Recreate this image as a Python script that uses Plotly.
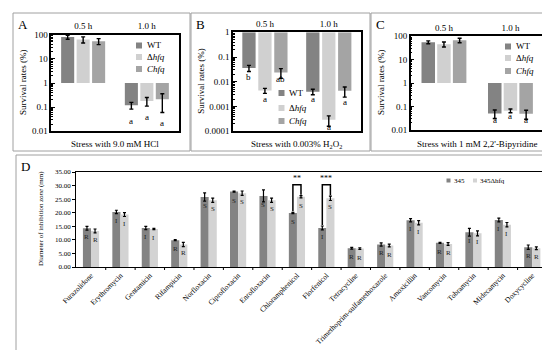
import plotly.graph_objects as go

W, H = 550, 350
FONT = 'Liberation Serif'

def px(x):
    return x / W

def py(y):
    return 1 - y / H

# ---------------- data ----------------
time_points = ['0.5 h', '1.0 h']
strain_names = ['WT', 'Δhfq', 'Chfq']
strain_legend = ['WT', 'Δ<i>hfq</i>', '<i>Chfq</i>']
strain_colors = ['#838383', '#d0d0d0', '#a4a4a4']

# Panel A: 9.0 mM HCl (survival %, 0.5 h and 1.0 h)
hcl_wt = [80, 0.12]
hcl_dhfq = [63, 0.18]
hcl_chfq = [54, 0.21]
hcl_wt_err = [15, 0.037]
hcl_dhfq_err = [18, 0.07]
hcl_chfq_err = [15, 0.15]
hcl_letters = [['a', 'a'], ['a', 'a'], ['a', 'a']]
hcl_letter_y = [[2.17, -1.58], [2.2, -1.42], [2.17, -1.67]]

# Panel B: 0.003% H2O2
h2o2_wt = [0.036, 0.004]
h2o2_dhfq = [0.0044, 0.00029]
h2o2_chfq = [0.024, 0.0043]
h2o2_wt_err = [0.01, 0.001]
h2o2_dhfq_err = [0.001, 0.00013]
h2o2_chfq_err = [0.01, 0.0019]
h2o2_letters = [['b', 'a'], ['a', 'a'], ['ab', 'a']]
h2o2_letter_y = [[-1.81, -2.69], [-2.69, -3.83], [-1.89, -2.81]]

# Panel C: 1 mM 2,2'-Bipyridine
bip_wt = [56, 0.05]
bip_dhfq = [46, 0.065]
bip_chfq = [68, 0.048]
bip_wt_err = [8, 0.02]
bip_dhfq_err = [11, 0.012]
bip_chfq_err = [15, 0.02]
bip_letters = [['a', 'a'], ['a', 'a'], ['a', 'a']]
bip_letter_y = [[2.03, -1.57], [2.03, -1.4], [2.23, -1.57]]

# Panel D: inhibition zone diameters (mm)
drugs = ['Furazolidone', 'Erythromycin', 'Gentamicin', 'Rifampicin', 'Norfloxacin',
         'Ciprofloxacin', 'Enrofloxacin', 'Chloramphenicol', 'Florfenicol', 'Tetracycline',
         'Trimethoprim-sulfamethoxazole', 'Amoxicillin', 'Vancomycin', 'Tobramycin',
         'Midecamycin', 'Doxycycline']
zone_345 = [14.3, 20.3, 14.4, 9.9, 25.8, 27.8, 26.2, 19.9, 14.4, 6.9, 8.3, 17.2, 8.9, 12.8, 17.3, 7.3]
zone_dhfq = [13.3, 19.3, 14.0, 8.3, 24.6, 27.2, 24.6, 25.9, 25.3, 6.8, 7.9, 16.3, 8.5, 12.4, 15.6, 6.9]
zone_345_err = [0.7, 0.6, 0.6, 0.2, 1.5, 0.2, 2.2, 0.2, 0.7, 0.3, 0.6, 0.6, 0.2, 1.4, 0.7, 0.8]
zone_dhfq_err = [0.7, 0.7, 0.2, 0.8, 0.8, 0.8, 0.8, 0.4, 0.8, 0.3, 0.5, 0.8, 0.5, 0.9, 0.8, 0.5]
class_345 = ['R', 'I', 'I', 'R', 'S', 'S', 'S', 'S', 'I', 'R', 'R', 'I', 'R', 'I', 'I', 'R']
class_dhfq = ['R', 'I', 'I', 'R', 'S', 'S', 'S', 'S', 'S', 'R', 'R', 'I', 'R', 'I', 'I', 'R']
zone_names = ['345', '345Δhfq']
zone_colors = ['#838383', '#d3d3d3']
sig_drugs = ['Chloramphenicol', 'Florfenicol']
sig_marks = ['**', '***']
sig_level = 30.3

# ---------------- figure ----------------
fig = go.Figure()
shapes = []
annotations = []


def note(x, y, text, size=9, xanchor='center', yanchor='middle', angle=0, xref='paper', yref='paper',
         color='black'):
    annotations.append(dict(x=x, y=y, xref=xref, yref=yref, text=text, showarrow=False,
                            xanchor=xanchor, yanchor=yanchor, textangle=angle,
                            font=dict(family=FONT, size=size, color=color)))


survival_panels = [
    dict(letter='A', n='', vals=[hcl_wt, hcl_dhfq, hcl_chfq],
         errs=[hcl_wt_err, hcl_dhfq_err, hcl_chfq_err],
         lets=hcl_letters, lety=hcl_letter_y, rng=[-2, 2],
         dx=(43.3, 170.7), dy=(26.7, 123.3), box=(5, 182),
         title='Stress with 9.0 mM HCl', slot=0.243, bw=0.205, midline=True,
         leg=(131, 137, [37.5, 49, 61])),
    dict(letter='B', n='2', vals=[h2o2_wt, h2o2_dhfq, h2o2_chfq],
         errs=[h2o2_wt_err, h2o2_dhfq_err, h2o2_chfq_err],
         lets=h2o2_letters, lety=h2o2_letter_y, rng=[-4, 0],
         dx=(225, 352.7), dy=(24.3, 123.3), box=(183, 362),
         title='Stress with 0.003% H<sub>2</sub>O<sub>2</sub>', slot=0.25, bw=0.208, midline=False,
         leg=(273.5, 279, [85, 100, 113])),
    dict(letter='C', n='3', vals=[bip_wt, bip_dhfq, bip_chfq],
         errs=[bip_wt_err, bip_dhfq_err, bip_chfq_err],
         lets=bip_letters, lety=bip_letter_y, rng=[-2, 2],
         dx=(402.7, 535.7), dy=(28.3, 121.7), box=(363, 547),
         title="Stress with 1 mM 2,2'-Bipyridine", slot=0.236, bw=0.203, midline=True,
         leg=(500, 506, [38.5, 50, 63])),
]

for p in survival_panels:
    n = p['n']
    xa, ya = 'x' + n, 'y' + n
    for i in range(3):
        v = p['vals'][i]
        fig.add_trace(go.Bar(
            x=[0, 1], y=[val - 1 for val in v], base=[1, 1],
            width=p['bw'], offset=(i - 1) * p['slot'] - p['bw'] / 2,
            marker=dict(color=strain_colors[i], line=dict(width=0)),
            error_y=dict(type='data', array=p['errs'][i], color='black', thickness=1.4, width=2),
            name=strain_names[i], showlegend=False, xaxis=xa, yaxis=ya))
        for j in range(2):
            note(j + (i - 1) * p['slot'], p['lety'][i][j], p['lets'][i][j], xref=xa, yref=ya)
    x0, x1 = p['dx']
    y0, y1 = p['dy']
    fig.update_layout(**{
        'xaxis' + n: dict(domain=[px(x0), px(x1)], type='linear', range=[-0.5, 1.5],
                          tickvals=[0, 1], ticktext=time_points, side='top', ticks='',
                          showline=True, mirror=True, linecolor='black', linewidth=1.5,
                          showgrid=False, zeroline=False, automargin=False,
                          tickfont=dict(family=FONT, size=9, color='black'), anchor=ya),
        'yaxis' + n: dict(domain=[py(y1), py(y0)], type='log', range=p['rng'], dtick=1,
                          tickformat='~g', ticks='inside', ticklen=4, tickwidth=1, tickcolor='black',
                          minor=dict(ticks='inside', ticklen=2, tickcolor='black', dtick='D1', showgrid=False),
                          showline=True, mirror=True, linecolor='black', linewidth=1.5,
                          showgrid=False, zeroline=False, automargin=False,
                          tickfont=dict(family=FONT, size=9, color='black'), anchor=xa),
    })
    if p['midline']:
        shapes.append(dict(type='line', xref=xa + ' domain', yref=ya, x0=0, x1=1, y0=0, y1=0,
                           line=dict(color='black', width=1.5)))
        shapes.append(dict(type='line', xref=xa, yref=ya, x0=0.5, x1=0.5, y0=0, y1=-0.12,
                           line=dict(color='black', width=1)))
    bx0, bx1 = p['box']
    shapes.append(dict(type='rect', xref='paper', yref='paper', x0=px(bx0), x1=px(bx1),
                       y0=py(143), y1=py(5), line=dict(color='#a0a0a0', width=1)))
    note(px(bx0 + 3), py(7), p['letter'], size=13, xanchor='left', yanchor='top')
    note(px((x0 + x1) / 2), py(136), p['title'])
    note(px(bx0 + 10), py((y0 + y1) / 2), 'Survival rates (%)', angle=-90)
    mx, tx, lys = p['leg']
    for i in range(3):
        shapes.append(dict(type='rect', xref='paper', yref='paper', x0=px(mx - 3), x1=px(mx + 3),
                           y0=py(lys[i] + 3), y1=py(lys[i] - 3), fillcolor=strain_colors[i],
                           line=dict(width=0)))
        note(px(tx), py(lys[i]), strain_legend[i], xanchor='left')

# Panel D
d_slot = 0.275
d_pos = list(range(len(drugs)))
for k, (vals, errs, cls) in enumerate([(zone_345, zone_345_err, class_345),
                                       (zone_dhfq, zone_dhfq_err, class_dhfq)]):
    fig.add_trace(go.Bar(
        x=d_pos, y=vals, width=d_slot, offset=(k - 1) * d_slot,
        marker=dict(color=zone_colors[k], line=dict(width=0)),
        error_y=dict(type='data', array=errs, color='black', thickness=1.2, width=1.5),
        name=zone_names[k], showlegend=False, xaxis='x4', yaxis='y4'))
    for j in range(len(drugs)):
        note(j + (k - 0.5) * d_slot, vals[j] - 3.3, cls[j], size=7, xref='x4', yref='y4', color='#222222')

for drug, mark in zip(sig_drugs, sig_marks):
    j = drugs.index(drug)
    xl, xr = j - 0.5 * d_slot, j + 0.5 * d_slot
    yl = zone_345[j] + zone_345_err[j] + 0.4
    yr = zone_dhfq[j] + zone_dhfq_err[j] + 0.3
    shapes.append(dict(type='path', xref='x4', yref='y4',
                       path=f'M {xl} {yl} L {xl} {sig_level} L {xr} {sig_level} L {xr} {yr}',
                       line=dict(color='black', width=1.5)))
    note(j, sig_level + 2.4, mark, size=8, xref='x4', yref='y4')

fig.update_layout(
    xaxis4=dict(domain=[px(68.3), px(539)], range=[-0.5, len(drugs) - 0.5], tickvals=d_pos, ticktext=drugs,
                tickangle=-45, ticks='', showline=True, mirror=True, linecolor='black', linewidth=1.3,
                showgrid=False, zeroline=False, automargin=False, anchor='y4',
                tickfont=dict(family=FONT, size=7.5, color='black')),
    yaxis4=dict(domain=[py(259), py(164)], range=[0, 35], dtick=5, tickformat='.2f',
                ticks='outside', ticklen=3, tickcolor='black',
                showline=True, mirror=True, linecolor='black', linewidth=1.3,
                showgrid=False, zeroline=False, automargin=False, anchor='x4',
                tickfont=dict(family=FONT, size=7, color='black')),
)
# x-axis boundary ticks for panel D
for j in range(1, len(drugs)):
    shapes.append(dict(type='line', xref='x4', yref='paper', x0=j - 0.5, x1=j - 0.5,
                       y0=py(259), y1=py(262), line=dict(color='black', width=1)))

shapes.append(dict(type='rect', xref='paper', yref='paper', x0=px(8), x1=px(546),
                   y0=py(344), y1=py(147), line=dict(color='#a0a0a0', width=1)))
note(px(11), py(149), 'D', size=13, xanchor='left', yanchor='top')
note(px(33), py(211), 'Diameter of inhibition <i>zone</i> (mm)', size=7, angle=-90)
d_leg_x = [440.5, 467]
for k in range(2):
    shapes.append(dict(type='rect', xref='paper', yref='paper', x0=px(d_leg_x[k] - 2), x1=px(d_leg_x[k] + 2),
                       y0=py(174.5), y1=py(170.5), fillcolor=zone_colors[k], line=dict(width=0)))
    note(px(d_leg_x[k] + 3), py(172.5), zone_names[k], size=7, xanchor='left')

fig.update_layout(
    width=W, height=H, margin=dict(l=0, r=0, t=0, b=0),
    paper_bgcolor='white', plot_bgcolor='white',
    barmode='overlay', showlegend=False,
    shapes=shapes, annotations=annotations,
    font=dict(family=FONT, color='black'),
)

fig.write_html('out.html')
